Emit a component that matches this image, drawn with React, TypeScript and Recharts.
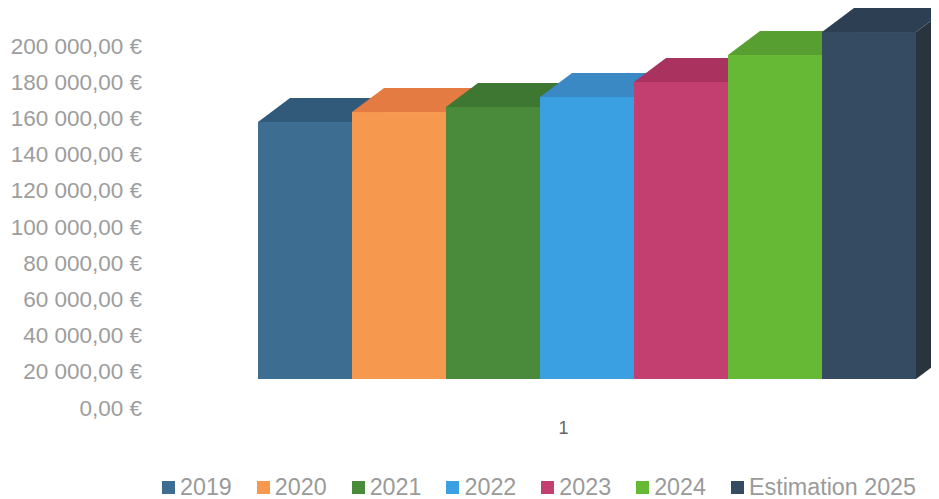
import React from "react";
import { BarChart, Bar, XAxis, YAxis, Legend } from "recharts";

const categories = ["1"];
const seriesNames = ["2019", "2020", "2021", "2022", "2023", "2024", "Estimation 2025"];
const seriesValues = [142000, 147500, 150300, 155800, 164100, 179000, 191700];
const yTicks = [0, 20000, 40000, 60000, 80000, 100000, 120000, 140000, 160000, 180000, 200000];

const frontColors = ["#3d6e91", "#f7984f", "#4a8a3b", "#3aa0e2", "#c33f70", "#66b935", "#354b61"];
const topColors = ["#30597a", "#e37b43", "#3d7731", "#3a88c4", "#a9325e", "#589f31", "#2d3f52"];
const sideColors = ["#2b4a63", "#c96a38", "#336428", "#2f72a5", "#8f2a50", "#4a8729", "#29343f"];

const DX = 32;
const DY = 24;
const FONT = "'Liberation Sans', Arial, sans-serif";

const data = categories.map((c) => {
  const row: Record<string, string | number> = { cat: c };
  seriesNames.forEach((n, i) => {
    row[n] = seriesValues[i];
  });
  return row;
});

const fmt = (v: number) => {
  const s = Math.round(v).toString().replace(/\B(?=(\d{3})+(?!\d))/g, " ");
  return `${s},00 €`;
};

const makeShape = (i: number) => (props: any) => {
  const { x, y, width, height } = props;
  if (width == null || height == null) return null;
  const top = `${x},${y} ${x + DX},${y - DY} ${x + width + DX},${y - DY} ${x + width},${y}`;
  const side = `${x + width},${y} ${x + width + DX},${y - DY} ${x + width + DX},${y + height - DY} ${x + width},${y + height}`;
  return (
    <g>
      <polygon points={side} fill={sideColors[i]} />
      <polygon points={top} fill={topColors[i]} />
      <rect x={x} y={y} width={width} height={height} fill={frontColors[i]} />
    </g>
  );
};

const YTick = (props: any) => {
  const { x, y, payload } = props;
  return (
    <text
      x={x}
      y={y + 29}
      textAnchor="end"
      dominantBaseline="central"
      fill="#9d9d9d"
      fontSize={22.5}
      fontFamily={FONT}
    >
      {fmt(payload.value)}
    </text>
  );
};

const XTick = (props: any) => {
  const { x, y, payload } = props;
  return (
    <text
      x={x - 24}
      y={y + 41}
      textAnchor="middle"
      dominantBaseline="central"
      fill="#666"
      fontSize={18}
      fontFamily={FONT}
    >
      {payload.value}
    </text>
  );
};

const renderLegend = (props: any) => {
  const { payload } = props;
  return (
    <div style={{ display: "flex", alignItems: "center", fontFamily: FONT }}>
      {payload.map((entry: any, i: number) => (
        <div
          key={entry.value}
          style={{ display: "flex", alignItems: "center", marginRight: i < payload.length - 1 ? 25 : 0 }}
        >
          <span
            style={{
              display: "inline-block",
              width: 13,
              height: 13,
              background: entry.color,
              marginRight: 5,
            }}
          />
          <span style={{ fontSize: 23.3, color: "#9a9a9a", lineHeight: "20px", whiteSpace: "nowrap" }}>
            {entry.value}
          </span>
        </div>
      ))}
    </div>
  );
};

export default function App() {
  return (
    <div style={{ width: 931, height: 491, background: "#fff" }}>
      <BarChart
        width={931}
        height={491}
        data={data}
        margin={{ top: 9, right: 22, bottom: 90, left: 0 }}
        barCategoryGap={0}
        barGap={0}
      >
        <XAxis
          dataKey="cat"
          axisLine={false}
          tickLine={false}
          tick={<XTick />}
          height={30}
        />
        <YAxis
          domain={[0, 200000]}
          ticks={yTicks}
          interval={0}
          width={250}
          axisLine={false}
          tickLine={false}
          tickSize={0}
          tickMargin={116}
          tick={<YTick />}
        />
        <Legend
          verticalAlign="middle"
          align="center"
          layout="horizontal"
          content={renderLegend}
          wrapperStyle={{ top: 469, left: 154, width: "auto" }}
        />
        {seriesNames.map((n, i) => (
          <Bar
            key={n}
            dataKey={n}
            fill={frontColors[i]}
            shape={makeShape(i)}
            isAnimationActive={false}
          />
        ))}
      </BarChart>
    </div>
  );
}
